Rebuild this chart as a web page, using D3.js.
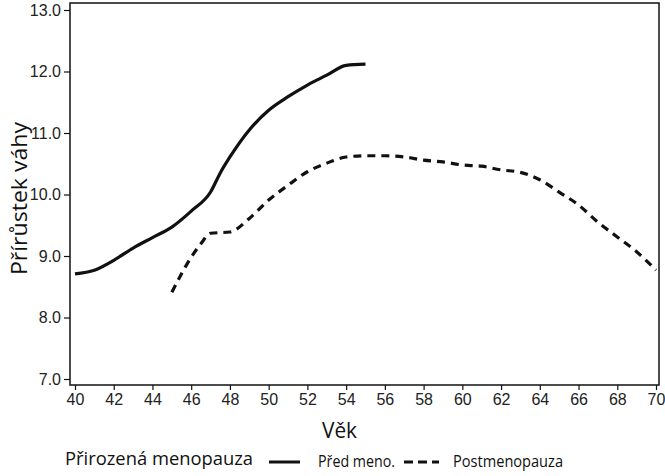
<!DOCTYPE html>
<html><head><meta charset="utf-8">
<script src="https://cdn.jsdelivr.net/npm/d3@7"></script>
<style>body{margin:0;background:#fff}svg{display:block}</style>
</head><body>
<svg id="c" width="665" height="476"></svg>
<script>
const preAges = [40,41,42,43,44,45,46,47,47.5,48,49,50,51,52,53,54,55];
const preValues = [8.71,8.77,8.93,9.13,9.30,9.47,9.73,10.04,10.35,10.61,11.05,11.37,11.59,11.78,11.94,12.10,12.12];
const postAges = [45,46,46.5,47,48,49,50,51,52,53,54,55,56,57,58,59,60,61,62,63,64,65,66,67,68,69,70];
const postValues = [8.41,8.98,9.20,9.37,9.39,9.61,9.91,10.15,10.37,10.51,10.61,10.63,10.63,10.61,10.56,10.53,10.48,10.46,10.40,10.36,10.24,10.04,9.83,9.55,9.31,9.07,8.77];
const xTicks = [40,42,44,46,48,50,52,54,56,58,60,62,64,66,68,70];
const yTicks = [7,8,9,10,11,12,13];
const xTitle = "Věk";
const yTitle = "Přírůstek váhy";
const legendTitle = "Přirozená menopauza";
const seriesNames = ["Před meno.", "Postmenopauza"];

const svg = d3.select("#c");
const x = d3.scaleLinear().domain([40,70]).range([75,656]);
const y = d3.scaleLinear().domain([7,13]).range([379,10]);
const frame = {l:70, r:659, t:3, b:385};
const TF = "Open Sans, sans-serif";

svg.append("rect").attr("x",frame.l).attr("y",frame.t)
  .attr("width",frame.r-frame.l).attr("height",frame.b-frame.t)
  .attr("fill","none").attr("stroke","#111").attr("stroke-width",1.5);

const xa = svg.append("g").attr("transform",`translate(0,${frame.b})`)
  .call(d3.axisBottom(x).tickValues(xTicks).tickSize(5).tickPadding(4).tickFormat(d3.format("d")));
xa.select(".domain").remove();
const ya = svg.append("g").attr("transform",`translate(${frame.l},0)`)
  .call(d3.axisLeft(y).tickValues(yTicks).tickSize(6).tickPadding(3).tickFormat(d3.format(".1f")));
ya.select(".domain").remove();
svg.selectAll(".tick text").style("font-family","'Liberation Sans', Arial, sans-serif")
  .style("font-size","16px").attr("fill","#222");
svg.selectAll(".tick line").attr("stroke","#111").attr("stroke-width",1.2);

const line = d3.line().x(d=>x(d[0])).y(d=>y(d[1])).curve(d3.curveMonotoneX);
svg.append("path").datum(preAges.map((a,i)=>[a,preValues[i]]))
  .attr("d",line).attr("fill","none").attr("stroke","#111").attr("stroke-width",3.2);
svg.append("path").datum(postAges.map((a,i)=>[a,postValues[i]]))
  .attr("d",line).attr("fill","none").attr("stroke","#111").attr("stroke-width",3.2)
  .attr("stroke-dasharray","8,6");

svg.append("text").attr("x",322).attr("y",438)
  .attr("font-family",TF).attr("font-size",22).attr("fill","#111")
  .attr("textLength",35).attr("lengthAdjust","spacingAndGlyphs").text(xTitle);
svg.append("text").attr("transform","translate(27,275) rotate(-90)")
  .attr("font-family",TF).attr("font-size",22).attr("fill","#111")
  .attr("textLength",153).attr("lengthAdjust","spacingAndGlyphs").text(yTitle);

const lg = svg.append("g").attr("font-family",TF).attr("fill","#111");
lg.append("text").attr("x",65).attr("y",465).attr("font-size",18)
  .attr("textLength",188).attr("lengthAdjust","spacingAndGlyphs").text(legendTitle);
lg.append("line").attr("x1",269).attr("x2",300).attr("y1",462).attr("y2",462)
  .attr("stroke","#111").attr("stroke-width",3);
lg.append("text").attr("x",318).attr("y",467).attr("font-size",16)
  .attr("textLength",77).attr("lengthAdjust","spacingAndGlyphs").text(seriesNames[0]);
lg.append("line").attr("x1",404).attr("x2",439).attr("y1",462).attr("y2",462)
  .attr("stroke","#111").attr("stroke-width",3).attr("stroke-dasharray","9,5");
lg.append("text").attr("x",453).attr("y",467).attr("font-size",16)
  .attr("textLength",110).attr("lengthAdjust","spacingAndGlyphs").text(seriesNames[1]);
</script>
</body></html>
